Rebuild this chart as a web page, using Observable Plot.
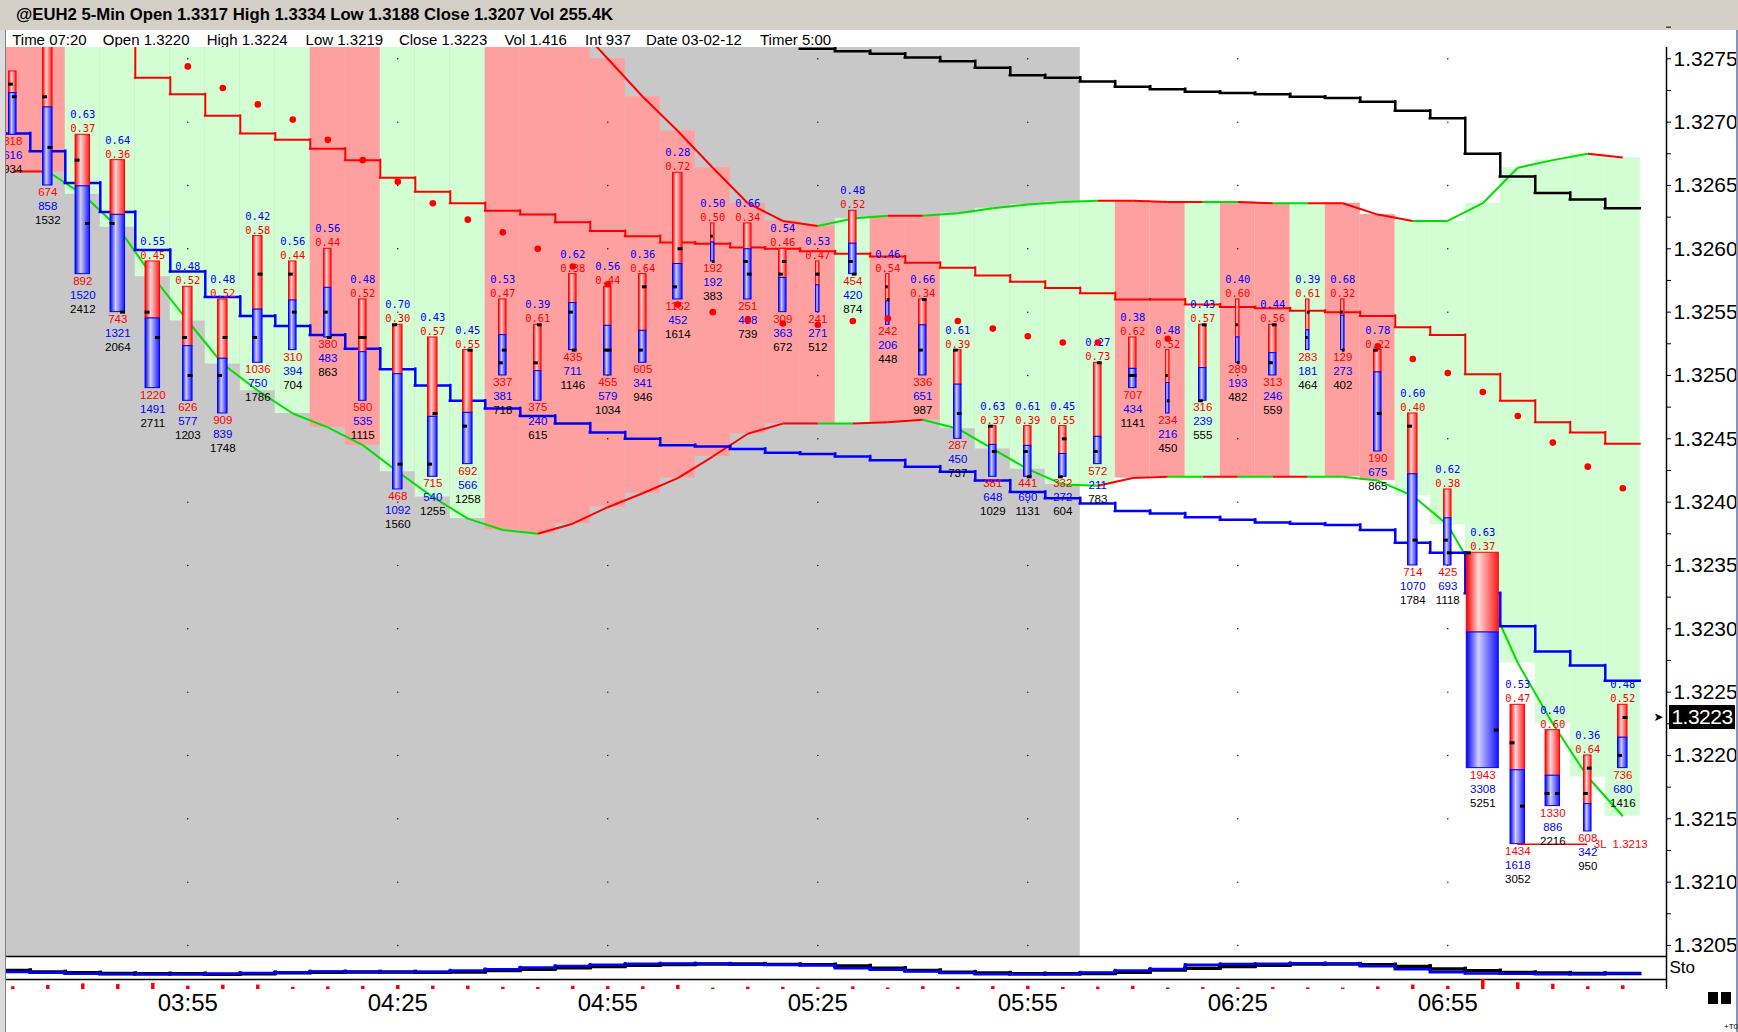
<!DOCTYPE html>
<html><head><meta charset="utf-8">
<script src="https://cdn.jsdelivr.net/npm/d3@7"></script>
<script src="https://cdn.jsdelivr.net/npm/@observablehq/plot@0.6"></script>
<style>
html,body{margin:0;padding:0;background:#fff;overflow:hidden;}
#wrap{position:relative;width:1738px;height:1032px;overflow:hidden;background:#fff;font-family:"Liberation Sans",Arial,sans-serif;}
.abs{position:absolute;}
</style></head><body>
<div id="wrap"></div>
<script>
// ---------------- DATA ----------------
const titleText = "@EUH2 5-Min Open 1.3317 High 1.3334 Low 1.3188 Close 1.3207 Vol 255.4K";
const headerFields = ["Time 07:20","Open 1.3220","High 1.3224","Low 1.3219","Close 1.3223","Vol 1.416","Int 937","Date 03-02-12","Timer 5:00"];

const highs  = [1.3274,1.3276,1.3269,1.3267,1.3259,1.3257,1.3256,1.3261,1.3259,1.3260,1.3256,1.3254,1.3253,1.3252,1.3256,1.3254,1.3258,1.3257,1.3258,1.3266,1.3262,1.3262,1.3260,1.3259,1.3263,1.3258,1.3256,1.3252,1.3246,1.3246,1.3246,1.3251,1.3253,1.3252,1.3254,1.3256,1.3254,1.3256,1.3256,1.3252,1.3247,1.3241,1.3236,1.3224,1.3222,1.3220,1.3224];
const lows   = [1.3269,1.3265,1.3258,1.3255,1.3249,1.3248,1.3247,1.3251,1.3252,1.3253,1.3248,1.3241,1.3242,1.3243,1.3250,1.3248,1.3252,1.3250,1.3251,1.3256,1.3259,1.3256,1.3255,1.3255,1.3258,1.3254,1.3250,1.3245,1.3242,1.3242,1.3242,1.3243,1.3249,1.3247,1.3248,1.3251,1.3250,1.3252,1.3252,1.3244,1.3235,1.3235,1.3219,1.3213,1.3216,1.3214,1.3219];
const opens  = [1.3273,1.3272,1.3267,1.3262,1.3255,1.3253,1.3250,1.3253,1.3258,1.3255,1.3253,1.3254,1.3243,1.3246,1.3251,1.3251,1.3255,1.3252,1.3252,1.3257,1.3261,1.3259,1.3258,1.3258,1.3259,1.3257,1.3252,1.3252,1.3246,1.3244,1.3242,1.3244,1.3250,1.3250,1.3248,1.3254,1.3251,1.3253,1.3255,1.3252,1.3246,1.3237,1.3236,1.3221,1.3217,1.3217,1.3220];
const closes = [1.3272,1.3268,1.3262,1.3255,1.3253,1.3250,1.3253,1.3258,1.3255,1.3253,1.3253,1.3243,1.3247,1.3252,1.3252,1.3254,1.3252,1.3252,1.3257,1.3260,1.3259,1.3258,1.3259,1.3258,1.3258,1.3256,1.3256,1.3247,1.3244,1.3242,1.3245,1.3251,1.3250,1.3248,1.3254,1.3251,1.3254,1.3255,1.3252,1.3247,1.3237,1.3236,1.3222,1.3216,1.3217,1.3219,1.3223];
const sellVol = [318,674,892,743,1220,626,909,1036,310,380,580,468,715,692,337,375,435,455,605,1162,192,251,309,241,454,242,336,287,381,441,332,572,707,234,316,289,313,283,129,190,714,425,1943,1434,1330,608,736];
const buyVol  = [616,858,1520,1321,1491,577,839,750,394,483,535,1092,540,566,381,240,711,579,341,452,192,488,363,271,420,206,651,450,648,690,272,211,434,216,239,193,246,181,273,675,1070,693,3308,1618,886,342,680];
const totVol  = [934,1532,2412,2064,2711,1203,1748,1786,704,863,1115,1560,1255,1258,718,615,1146,1034,946,1614,383,739,672,512,874,448,987,737,1029,1131,604,783,1141,450,555,482,559,464,402,865,1784,1118,5251,3052,2216,950,1416];

// envelope (upper / lower) and per-bar state
const upperBand = [1.3283,1.3283,1.3283,1.3283,1.3283,1.3283,1.3283,1.3283,1.3283,1.3283,1.3283,1.3283,1.3283,1.3283,1.3283,1.3281,1.3278,1.32750,1.32720,1.32693,1.32664,1.32636,1.32622,1.32618,1.32624,1.32626,1.32626,1.32628,1.32632,1.32635,1.32637,1.32638,1.32638,1.32637,1.32637,1.32637,1.32636,1.32636,1.32636,1.32627,1.32622,1.32622,1.32636,1.32664,1.32670,1.32675,1.32672];
const lowerBand = [1.32661,1.32661,1.32643,1.32617,1.32578,1.32543,1.32509,1.32488,1.32470,1.32459,1.32445,1.32424,1.32404,1.32387,1.32378,1.32375,1.32383,1.32396,1.32407,1.32419,1.32436,1.32454,1.32462,1.32462,1.32462,1.32463,1.32465,1.32458,1.32442,1.32426,1.32414,1.32413,1.32419,1.32420,1.32420,1.32420,1.32420,1.32420,1.32420,1.32417,1.32405,1.32382,1.32334,1.32273,1.32225,1.32183,1.32152];
const bandState = ["P","P","G","G","G","G","G","G","G","P","P","G","G","G","P","P","P","P","P","P","P","P","P","P","G","P","P","G","G","G","G","G","P","P","G","P","P","G","P","P","G","G","G","G","G","G","G"];
const upperSeg = ["-","R","R","R","R","R","R","R","R","R","R","R","R","R","R","R","R","R","R","R","R","R","R","R","G","G","R","G","G","G","G","G","R","R","R","G","R","G","R","R","R","G","G","G","G","G","R"];
const lowerSeg = ["-","R","G","G","G","G","G","G","G","G","G","G","G","G","G","G","R","R","R","R","R","R","R","R","G","R","R","G","G","G","G","G","R","R","G","R","G","R","G","G","G","G","G","G","G","G","G"];

// step lines
const redStep   = [1.3280,1.3280,1.3280,1.3280,1.32735,1.32722,1.32705,1.32691,1.32686,1.32679,1.32670,1.32656,1.32645,1.32636,1.32630,1.32627,1.32621,1.32614,1.32610,1.32605,1.32604,1.32601,1.32600,1.32598,1.32596,1.32594,1.32589,1.32585,1.32579,1.32574,1.32569,1.32565,1.32560,1.32560,1.32556,1.32554,1.32553,1.32551,1.32550,1.32547,1.32538,1.32532,1.32501,1.32480,1.32463,1.32455,1.32446];
const blueStep  = [1.32691,1.32677,1.32652,1.32629,1.32599,1.32582,1.32562,1.32547,1.32539,1.32532,1.32521,1.32505,1.32492,1.32480,1.32474,1.32468,1.32462,1.32455,1.32450,1.32445,1.32444,1.32442,1.32439,1.32438,1.32436,1.32433,1.32428,1.32424,1.32417,1.32408,1.32403,1.32399,1.32393,1.32391,1.32388,1.32386,1.32384,1.32383,1.32382,1.32378,1.32368,1.32360,1.32328,1.32302,1.32282,1.32271,1.32259];
const blackStep = [null,null,null,null,null,null,null,null,null,null,null,null,null,null,null,null,null,null,null,null,null,null,null,1.32758,1.32756,1.32754,1.32751,1.32748,1.32743,1.32737,1.32735,1.32732,1.32728,1.32726,1.32724,1.32723,1.32722,1.32720,1.32719,1.32716,1.32709,1.32703,1.32675,1.32657,1.32644,1.32639,1.32632];
const redDots   = [null,null,null,null,null,1.32744,1.32727,1.32714,1.32702,1.32686,1.32670,1.32653,1.32636,1.32623,1.32613,1.32600,1.32586,1.32572,null,1.32556,1.32550,1.32544,1.32541,1.32540,1.32543,1.32545,null,1.32543,1.32537,1.32531,1.32526,1.32526,null,1.32529,null,null,null,null,null,1.32523,1.32513,1.32502,1.32487,1.32468,1.32447,1.32428,1.32411];

// stochastic pane
const stoFast = [33,29,25,23,23,23,25,28,32,35,33,32,33,39,45,52,59,64,68,70,68,64,64,62,49,42,35,28,23,23,23,30,39,46,64,67,68,71,68,58,45,32,26,25,23,23,26];
const stoSlow = [39,33,29,26,25,25,23,25,29,32,33,33,32,33,39,45,51,57,62,65,67,67,65,64,59,49,39,32,28,25,25,26,32,41,49,57,62,67,67,64,57,46,38,30,28,26,26];

// level line
const levelPrice = 1.3213, levelFrom = 43, levelTo = 45, levelText = "3L  1.3213";

// axes
const timeTickIdx = [5,11,17,23,29,35,41];
const timeTickLabels = ["03:55","04:25","04:55","05:25","05:55","06:25","06:55"];
const priceTicks = [1.3205,1.3210,1.3215,1.3220,1.3225,1.3230,1.3235,1.3240,1.3245,1.3250,1.3255,1.3260,1.3265,1.3270,1.3275];

// ---------------- LAYOUT ----------------
const W = 1738;
const PX0 = 6, PX1 = 1666;
const xDomain = [-0.18, 47.249];
const BAR_PX = (PX1 - PX0) / (xDomain[1] - xDomain[0]);
const MAIN_TOP = 47, MAIN_H = 909;
const yDomain = [1.3204129, 1.3275892];
const PX_PER_PRICE = MAIN_H / (yDomain[1] - yDomain[0]);
const RED = "#ff0000", BLUE = "#0000ff", GREEN = "#00e000";
const xMax = () => xDomain[1];

function barWidth(v){ return v < 520 ? 4.5 : v < 1150 ? 8.5 : v < 2050 ? 10.5 : v < 4000 ? 15.5 : 33; }

const rows = highs.map((h,i)=>({
  i, high:h, low:lows[i], open:opens[i], close:closes[i],
  sell:sellVol[i], buy:buyVol[i], total:totVol[i],
  split: h - sellVol[i]/totVol[i]*(h-lows[i]),
  w: barWidth(totVol[i]),
  up: upperBand[i], lo: lowerBand[i], state: bandState[i]
}));
// ratio labels only where they fit below the top edge of the pane
const ratioRows = rows.filter(d => (yDomain[1] - d.high) * PX_PER_PRICE - 19.7 > 8);

function stepMarks(vals, color, sw){
  const segs = vals.map((v,i)=>({i, v}));
  const joins = vals.slice(1).map((v,k)=>({i:k+1, a: vals[k], b: v})).filter(d=>d.a!=null && d.b!=null);
  return [
    Plot.ruleY(segs, {x1: d=>d.i-0.5, x2: d=>d.i+0.5, y: "v", stroke: color, strokeWidth: sw, strokeLinecap: "square", clip: true}),
    Plot.ruleX(joins, {x: d=>d.i-0.5, y1: "a", y2: "b", stroke: color, strokeWidth: sw, strokeLinecap: "square", clip: true})
  ];
}
function segMarks(vals, segColors){
  const segs = vals.slice(1).map((v,k)=>({i:k+1, a: vals[k], b: v, c: segColors[k+1]}));
  return Plot.link(segs, {x1: d=>d.i-1, y1: "a", x2: "i", y2: "b", stroke: d => d.c === "G" ? GREEN : RED, strokeWidth: 2, clip: true});
}

const widths = [...new Set(rows.map(d=>d.w))];
const barMarks = widths.flatMap(w => {
  const sub = rows.filter(d=>d.w===w);
  const ins = (BAR_PX - w)/2 + 0.5;
  const tl = Math.min(5, w/2 + 0.5);
  const ti = (BAR_PX - w)/2;
  return [
    Plot.rect(sub, {x1: d=>d.i-0.5, x2: d=>d.i+0.5, y1: "split", y2: "high", insetLeft: ins, insetRight: ins, fill: "url(#gRed)", stroke: RED, strokeWidth: 1, clip: true}),
    Plot.rect(sub, {x1: d=>d.i-0.5, x2: d=>d.i+0.5, y1: "low", y2: "split", insetLeft: ins, insetRight: ins, fill: "url(#gBlue)", stroke: BLUE, strokeWidth: 1, clip: true}),
    Plot.ruleY(sub, {x1: d=>d.i-0.5, x2: d=>d.i+0.5, y: "open", insetLeft: ti, insetRight: BAR_PX - ti - tl, stroke: "#000", strokeWidth: 3, clip: true}),
    Plot.ruleY(sub, {x1: d=>d.i-0.5, x2: d=>d.i+0.5, y: "close", insetLeft: BAR_PX - ti - tl, insetRight: ti, stroke: "#000", strokeWidth: 3, clip: true})
  ];
});

const gridPts = timeTickIdx.flatMap(i => priceTicks.map(p => ({i, p})));
const minorTicks = priceTicks.slice(1).map((p,k)=> (p + priceTicks[k])/2).concat([priceTicks[priceTicks.length-1]+0.00025]);

const wrap = document.getElementById("wrap");
wrap.insertAdjacentHTML("beforeend", `<svg width="0" height="0" style="position:absolute;left:0;top:0"><defs>
<linearGradient id="gRed" x1="0" x2="1" y1="0" y2="0"><stop offset="0" stop-color="#f00000"/><stop offset="0.38" stop-color="#ffd8d8"/><stop offset="1" stop-color="#ff1a1a"/></linearGradient>
<linearGradient id="gBlue" x1="0" x2="1" y1="0" y2="0"><stop offset="0" stop-color="#0000f0"/><stop offset="0.38" stop-color="#cfcfff"/><stop offset="1" stop-color="#1414ff"/></linearGradient>
</defs></svg>`);

// ---------------- HEADER ----------------
const hx = [12.2,102.8,206.7,305.6,398.9,504.4,585,646,760];
let hdr = `<svg class="abs" width="${W}" height="${MAIN_TOP}" style="left:0;top:0" font-family="Liberation Sans, Arial, sans-serif">
<rect x="0" y="0" width="${W}" height="30" fill="#d4d0c8"/>
<rect x="0" y="30" width="${W}" height="${MAIN_TOP-30}" fill="#ffffff"/>
<text x="16" y="20" font-size="16" font-weight="bold" fill="#000" textLength="597" lengthAdjust="spacingAndGlyphs">${titleText}</text>`;
headerFields.forEach((t,k)=>{ hdr += `<text x="${hx[k]}" y="45" font-size="15" fill="#000">${t}</text>`; });
hdr += `</svg>`;
wrap.insertAdjacentHTML("beforeend", hdr);

// ---------------- MAIN PANE ----------------
const plotA = Plot.plot({
  width: W, height: MAIN_H,
  marginLeft: PX0, marginRight: W - PX1, marginTop: 0, marginBottom: 0,
  x: {domain: xDomain, axis: null},
  y: {domain: yDomain, axis: null},
  color: {type: "identity"},
  style: {background: "#ffffff", overflow: "visible"},
  marks: [
    Plot.rect([{a: -0.5, b: 30.5}], {x1: "a", x2: "b", fill: "#c8c8c8", clip: true}),
    Plot.rect(rows, {x1: d=>d.i-0.5, x2: d=>d.i+0.5, y1: "lo", y2: "up", fill: d => d.state === "G" ? "#d3fdd3" : "#ffa0a0", clip: true}),
    Plot.dot(gridPts, {x: "i", y: "p", r: 0.7, fill: "#000", stroke: null}),
    segMarks(upperBand, upperSeg),
    segMarks(lowerBand, lowerSeg),
    ...stepMarks(blackStep, "#000000", 2.5),
    ...stepMarks(redStep, RED, 2),
    ...stepMarks(blueStep, BLUE, 2.5),
    ...barMarks,
    Plot.ruleY([{a: levelFrom, b: levelTo, v: levelPrice}], {x1: "a", x2: "b", y: "v", stroke: RED, strokeWidth: 1.5}),
    Plot.text([{i: levelTo, v: levelPrice, t: levelText}], {x: "i", y: "v", text: "t", dx: 6, textAnchor: "start", fill: RED, fontSize: 11.5, fontFamily: "Liberation Sans"}),
    Plot.text(ratioRows, {x: "i", y: "high", text: d => (d.buy/d.total).toFixed(2), dy: -19.7, fill: BLUE, fontSize: 10.5, fontFamily: "DejaVu Sans Mono", clip: true}),
    Plot.text(ratioRows, {x: "i", y: "high", text: d => (d.sell/d.total).toFixed(2), dy: -5.7, fill: RED, fontSize: 10.5, fontFamily: "DejaVu Sans Mono", clip: true}),
    Plot.text(rows, {x: "i", y: "low", text: d => String(d.sell), dy: 7, fill: RED, fontSize: 11.5, fontFamily: "Liberation Sans", clip: true}),
    Plot.text(rows, {x: "i", y: "low", text: d => String(d.buy), dy: 21, fill: BLUE, fontSize: 11.5, fontFamily: "Liberation Sans", clip: true}),
    Plot.text(rows, {x: "i", y: "low", text: d => String(d.total), dy: 35, fill: "#000", fontSize: 11.5, fontFamily: "Liberation Sans", clip: true}),
    Plot.dot(rows.filter(d => redDots[d.i] != null), {x: "i", y: d => redDots[d.i], r: 3.3, fill: RED, stroke: null}),
    Plot.ruleX([0], {x: xMax, stroke: "#000", strokeWidth: 1.5}),
    Plot.ruleY(priceTicks.concat(minorTicks), {x1: xMax, x2: xMax, y: d=>d, insetRight: -5, stroke: "#000", strokeWidth: 1}),
    Plot.text(priceTicks, {x: xMax, y: d=>d, text: d=>d.toFixed(4), dx: 7, textAnchor: "start", fill: "#000", fontSize: 21, fontFamily: "Liberation Sans", ariaLabel: "price-label"}),
    Plot.text([closes[closes.length-1]], {x: xMax, y: d=>d, text: () => "➤", dx: -8, fill: "#000", fontSize: 12, fontFamily: "DejaVu Sans"})
  ]
});
plotA.style.position = "absolute"; plotA.style.left = "0px"; plotA.style.top = MAIN_TOP + "px";
wrap.appendChild(plotA);

function fitText(svg, label, len){
  svg.querySelectorAll(`g[aria-label="${label}"] text`).forEach(t => { t.setAttribute("textLength", len); t.setAttribute("lengthAdjust", "spacingAndGlyphs"); });
}
fitText(plotA, "price-label", 58);

// current price box
const yPx = MAIN_TOP + plotA.scale("y").apply(closes[closes.length-1]);
const box = document.createElement("div");
box.className = "abs";
box.style.cssText = `left:1669px;top:${yPx-12}px;width:66px;height:24px;background:#000;color:#fff;font:21px 'Liberation Sans',Arial,sans-serif;line-height:24px;text-align:center;letter-spacing:-0.5px;`;
box.textContent = closes[closes.length-1].toFixed(4);
wrap.appendChild(box);

// ---------------- STO PANE ----------------
const STO_TOP = 956;
const plotB = Plot.plot({
  width: W, height: 24, marginLeft: PX0, marginRight: W - PX1, marginTop: 0, marginBottom: 1,
  x: {domain: xDomain, axis: null}, y: {domain: [0, 100], axis: null},
  style: {background: "transparent", overflow: "visible"},
  marks: [
    ...stepMarks(stoSlow, "#000000", 3.5),
    ...stepMarks(stoFast, BLUE, 2.5),
    Plot.ruleY([0, 100], {stroke: "#000", strokeWidth: 1.5, insetLeft: -PX0}),
    Plot.ruleX([0], {x: xMax, stroke: "#000", strokeWidth: 1.5}),
    Plot.text(["Sto"], {x: xMax, y: () => 50, text: d => d, dx: 3, textAnchor: "start", fill: "#000", fontSize: 17, fontFamily: "Liberation Sans", ariaLabel: "sto-label"})
  ]
});
plotB.style.position = "absolute"; plotB.style.left = "0px"; plotB.style.top = STO_TOP + "px";
wrap.appendChild(plotB);
fitText(plotB, "sto-label", 26);

// ---------------- VOLUME STRIP + TIME AXIS ----------------
const plotC = Plot.plot({
  width: W, height: 53, marginLeft: PX0, marginRight: W - PX1, marginTop: 0, marginBottom: 43,
  x: {domain: xDomain, axis: null}, y: {type: "pow", exponent: 0.75, domain: [0, 5251], axis: null},
  style: {background: "transparent", overflow: "visible"},
  marks: [
    Plot.ruleX(rows, {x: "i", y1: () => 0, y2: "total", stroke: RED, strokeWidth: 3.5}),
    Plot.ruleX([0], {x: xMax, stroke: "#000", strokeWidth: 1.5}),
    Plot.text(timeTickIdx.map((i,k)=>({i, t: timeTickLabels[k]})), {x: "i", text: "t", frameAnchor: "bottom", lineAnchor: "middle", dy: 14, fill: "#000", fontSize: 24, fontFamily: "Liberation Sans", ariaLabel: "time-label"})
  ]
});
plotC.style.position = "absolute"; plotC.style.left = "0px"; plotC.style.top = "979px";
wrap.appendChild(plotC);
fitText(plotC, "time-label", 49);

// ---------------- WINDOW CHROME ----------------
wrap.insertAdjacentHTML("beforeend", `
<div class="abs" style="left:0;top:30px;width:5px;height:1002px;background:#dcdcdc;"></div>
<div class="abs" style="left:5px;top:30px;width:1px;height:1002px;background:#808080;"></div>
<div class="abs" style="left:1736px;top:30px;width:2px;height:1002px;background:#7b98c4;"></div>
<div class="abs" style="left:1708px;top:992px;width:10px;height:12px;background:#000;"></div>
<div class="abs" style="left:1721px;top:992px;width:10px;height:12px;background:#000;"></div>
<div class="abs" style="left:1724px;top:1022px;font:8px 'Liberation Sans',Arial;color:#000;">+T0</div>
`);
</script>
</body></html>
